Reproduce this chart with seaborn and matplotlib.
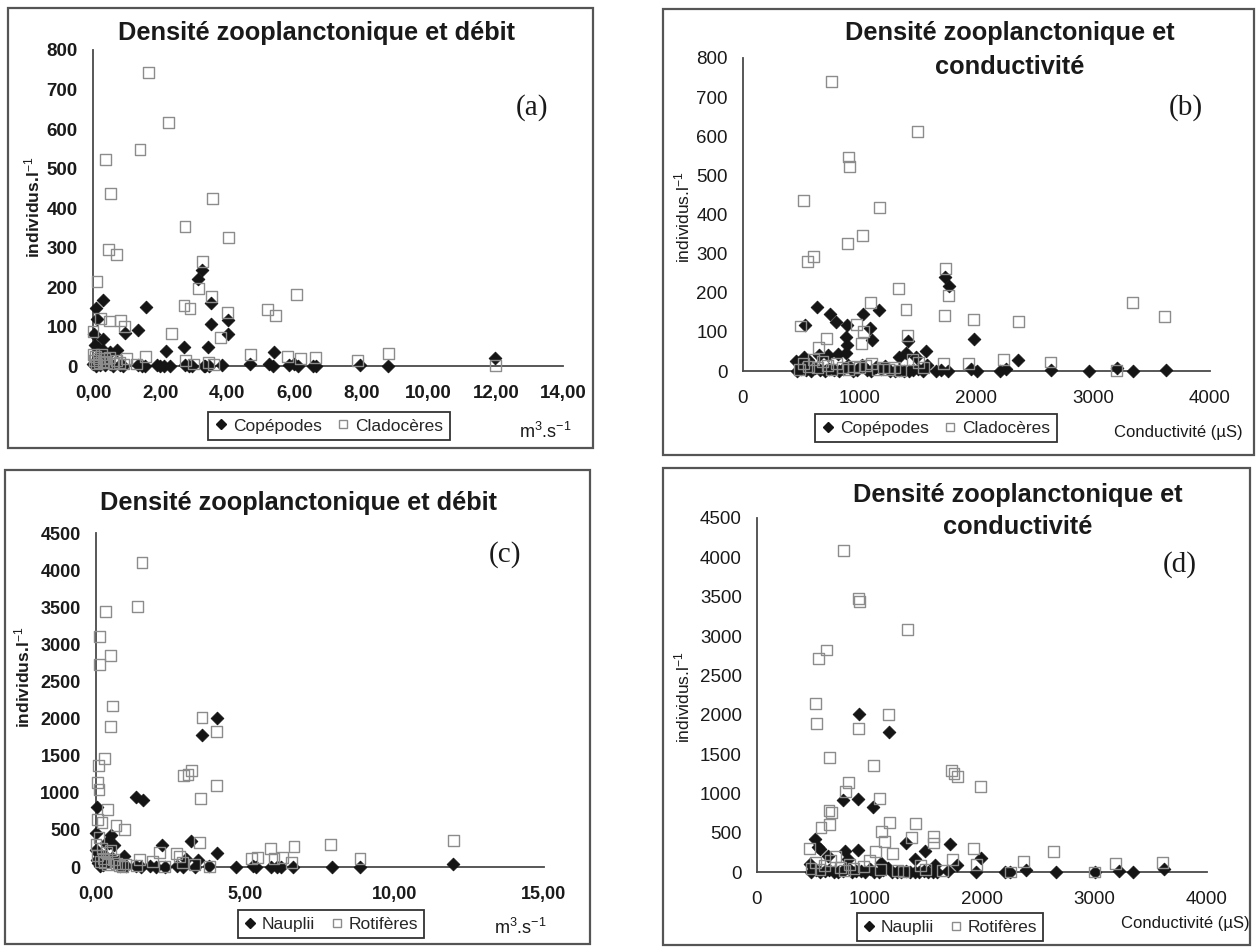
import matplotlib
matplotlib.use("Agg")
import matplotlib.pyplot as plt
import seaborn as sns
from matplotlib.lines import Line2D
from matplotlib.patches import Rectangle

# ---------------- data ----------------
# Panel (a): density vs discharge (m3/s)
cla_deb_x = [1.64, 2.24, 1.40, 0.36, 0.51, 3.55, 2.74, 4.05, 0.45, 0.69, 3.25, 0.12, 3.13, 6.05,
             3.52, 2.71, 2.89, 5.19, 5.43, 4.02, 0.21, 0.48, 0.81, 0.93, 2.33, 3.81, 4.68, 8.81,
             5.79, 6.19, 6.62, 7.89, 1.55, 1.00, 2.75, 3.45, 11.98, 1.30, 3.00, 3.60, 0.00,
             0.02, 0.05, 0.08, 0.10, 0.15, 0.20, 0.25, 0.30, 0.35, 0.40, 0.50, 0.60, 0.70, 0.80, 0.90]
cla_deb_y = [742, 616, 548, 523, 437, 424, 352, 325, 295, 283, 265, 213, 196, 181,
             177, 154, 145, 143, 128, 135, 120, 114, 116, 99, 82, 73, 30, 31,
             23, 20, 22, 14, 24, 20, 15, 10, 2, 5, 5, 3, 88,
             30, 15, 25, 5, 20, 10, 28, 12, 18, 8, 22, 6, 15, 10, 5]
cop_deb_x = [3.25, 3.13, 0.29, 1.57, 0.10, 3.52, 0.13, 4.02, 3.51, 1.35, 0.96, 4.02, 0.02, 0.31,
             2.71, 3.43, 2.18, 5.40, 0.05, 0.15, 0.30, 0.50, 0.70, 11.96,
             0.00, 0.05, 0.10, 0.15, 0.20, 0.25, 0.35, 0.40, 0.50, 0.60, 0.80, 0.90, 1.35, 1.45,
             1.55, 1.90, 2.00, 2.10, 2.30, 2.75, 2.85, 2.95, 3.30, 3.35, 3.45, 3.85, 4.68, 5.25,
             5.35, 5.85, 6.00, 6.10, 6.55, 6.65, 7.95, 8.80]
cop_deb_y = [244, 219, 166, 150, 148, 160, 120, 116, 107, 90, 84, 82, 80, 69,
             48, 48, 38, 35, 52, 45, 40, 35, 40, 19,
             5, 10, 0, 20, 3, 30, 2, 8, 5, 0, 2, 1, 2, 1,
             0, 2, 0, 0, 1, 2, 0, 0, 1, 0, 0, 2, 5, 5,
             1, 3, 4, 1, 0, 1, 2, 0]

# Panel (b): density vs conductivity (uS)
cla_cond_x = [759, 1498, 902, 909, 517, 1168, 1021, 895, 606, 551, 1334, 1736, 1760, 1093, 1396,
              3336, 1729, 1974, 2359, 3609, 494, 970, 1031, 1413, 715, 647, 1011, 2230, 2632,
              1934, 1720, 3200,
              480, 520, 560, 600, 640, 680, 720, 760, 800, 850, 900, 950, 1000, 1050, 1100,
              1150, 1200, 1250, 1300, 1350, 1450, 1500, 1550]
cla_cond_y = [740, 612, 547, 522, 435, 419, 346, 327, 293, 281, 211, 261, 192, 175, 158,
              175, 141, 131, 126, 139, 115, 118, 100, 90, 84, 60, 70, 30, 23,
              18, 18, 2,
              5, 20, 12, 30, 8, 25, 15, 5, 20, 10, 3, 12, 8, 15, 20,
              5, 10, 3, 8, 2, 30, 22, 10]
cop_cond_x = [1729, 1763, 637, 749, 1028, 1164, 793, 892, 528, 1086, 882, 1106, 1413, 1978, 892,
              1569, 882, 1399, 814, 732, 647, 1334, 1481, 2359, 521, 453, 560,
              460, 500, 540, 580, 620, 660, 700, 740, 780, 820, 860, 900, 940, 980, 1020, 1060,
              1100, 1140, 1180, 1220, 1260, 1300, 1340, 1380, 1420, 1460, 1500, 1540, 1580, 1650,
              1700, 1760, 1950, 2000, 2200, 2250, 2640, 2960, 3200, 3340, 3620]
cop_cond_y = [241, 216, 164, 146, 146, 156, 124, 118, 118, 109, 87, 80, 77, 82, 67,
              51, 47, 47, 43, 40, 40, 36, 36, 28, 36, 26, 28,
              0, 5, 2, 0, 8, 3, 0, 5, 2, 0, 4, 15, 0, 3, 15, 2,
              0, 10, 5, 12, 0, 0, 2, 0, 0, 3, 5, 0, 15, 0,
              2, 0, 5, 0, 0, 5, 2, 0, 8, 0, 3]

# Panel (c): density vs discharge (m3/s)
rot_deb_x = [1.54, 1.38, 0.33, 0.13, 0.50, 0.11, 0.54, 0.50, 3.55, 4.04, 0.27, 0.08, 3.21, 3.08,
             2.92, 0.05, 4.04, 0.10, 3.51, 0.375, 0.05, 0.20, 0.67, 0.94, 3.48, 11.96, 7.85,
             6.63, 5.83, 8.84, 5.42, 5.22, 5.96, 6.23, 2.14, 2.68, 2.79, 1.47, 1.90, 6.55, 0.47,
             0.00, 0.05, 0.10, 0.15, 0.20, 0.25, 0.30, 0.35, 0.40, 0.60, 0.70, 0.80, 0.90, 1.00,
             1.35, 2.30, 2.90, 3.30, 3.80]
rot_deb_y = [4097, 3514, 3447, 3102, 2855, 2730, 2169, 1891, 2012, 1824, 1466, 1363, 1296, 1250,
             1228, 1143, 1094, 1040, 928, 780, 636, 600, 556, 502, 336, 358, 300,
             278, 255, 116, 134, 120, 120, 130, 197, 179, 140, 100, 80, 60, 219,
             300, 150, 400, 80, 250, 120, 60, 200, 30, 100, 50, 20, 10, 40,
             20, 10, 60, 30, 10]
nau_deb_x = [4.06, 3.55, 1.34, 1.57, 0.05, 0.51, 0.35, 0.45, 0.60, 3.19, 2.21, 4.04, 0.94, 3.01,
             3.40, 0.00, 0.00, 11.96,
             0.02, 0.08, 0.10, 0.15, 0.20, 0.25, 0.30, 0.40, 0.55, 0.70, 0.80, 1.00, 1.35, 1.50,
             1.80, 2.00, 2.30, 2.70, 2.90, 3.30, 3.80, 4.68, 5.25, 5.35, 5.85, 6.05, 6.20, 6.60,
             7.90, 8.85]
nau_deb_y = [2003, 1779, 941, 905, 815, 435, 323, 320, 300, 354, 300, 188, 152, 110,
             100, 457, 230, 40,
             100, 50, 180, 20, 60, 30, 150, 80, 120, 40, 20, 10, 15, 5,
             10, 5, 0, 20, 5, 0, 10, 0, 10, 5, 0, 5, 0, 0,
             0, 5]

# Panel (d): density vs conductivity (uS)
rot_cond_x = [772, 900, 907, 1341, 548, 619, 523, 530, 1171, 904, 641, 1039, 1726, 1751, 1779,
              1989, 811, 790, 1085, 640, 665, 648, 569, 1181, 1413, 1110, 1135, 1377, 1573, 1570,
              1922, 463, 2633, 1203, 1050, 2367, 3185, 3601, 1950, 1740, 2250, 3000,
              480, 520, 560, 600, 650, 700, 740, 780, 820, 860, 950, 1000, 1100, 1250, 1300,
              1450, 1500, 1650]
rot_cond_y = [4083, 3481, 3438, 3086, 2716, 2822, 2143, 1889, 2003, 1825, 1456, 1358, 1295, 1252,
              1218, 1082, 1138, 1027, 934, 785, 760, 603, 560, 624, 615, 509, 390, 433, 454, 369,
              297, 297, 255, 233, 255, 136, 106, 115, 100, 160, 0, 0,
              50, 120, 30, 80, 150, 200, 60, 20, 100, 40, 70, 150, 30, 20, 10,
              80, 30, 20]
nau_cond_x = [904, 1171, 762, 897, 1032, 512, 540, 560, 1324, 1715, 780, 900, 1495, 1989, 630,
              808, 1406, 1103, 1780, 1580, 470, 2390, 3220, 3620, 2660, 3000, 3340, 1950, 2200,
              2250,
              480, 520, 560, 600, 640, 680, 720, 760, 800, 840, 880, 920, 960, 1000, 1040, 1080,
              1120, 1160, 1200, 1240, 1280, 1320, 1360, 1400, 1440, 1480, 1520, 1560, 1600, 1700]
nau_cond_y = [2003, 1783, 913, 934, 828, 424, 320, 290, 369, 352, 270, 285, 270, 182, 200,
              170, 170, 120, 90, 90, 100, 20, 10, 40, 0, 0, 0, 0, 0,
              0,
              5, 20, 0, 10, 30, 5, 0, 15, 60, 0, 8, 10, 0, 40, 5, 0,
              20, 50, 0, 3, 0, 8, 0, 2, 0, 10, 0, 5, 0, 15]

# ticks and texts
deb_ticks_a = [0, 2, 4, 6, 8, 10, 12, 14]
deb_labels_a = ["0,00", "2,00", "4,00", "6,00", "8,00", "10,00", "12,00", "14,00"]
deb_ticks_c = [0, 5, 10, 15]
deb_labels_c = ["0,00", "5,00", "10,00", "15,00"]
cond_ticks = [0, 1000, 2000, 3000, 4000]
cond_labels = ["0", "1000", "2000", "3000", "4000"]
y_ticks_small = [0, 100, 200, 300, 400, 500, 600, 700, 800]
y_ticks_large = [0, 500, 1000, 1500, 2000, 2500, 3000, 3500, 4000, 4500]

title_debit = ["Densité zooplanctonique et débit"]
title_cond = ["Densité zooplanctonique et", "conductivité"]
legend_top = ["Copépodes", "Cladocères"]
legend_bottom = ["Nauplii", "Rotifères"]
unit_debit = r"m$^{3}$.s$^{-1}$"
unit_cond = "Conductivité (µS)"
y_label = r"individus.l$^{-1}$"

# ---------------- styling ----------------
sns.set_theme(style="white")
plt.rcParams['font.family'] = ['Liberation Sans', 'DejaVu Sans']
plt.rcParams['mathtext.fontset'] = 'custom'
plt.rcParams['mathtext.rm'] = 'Liberation Sans'
plt.rcParams['mathtext.it'] = 'Liberation Sans:italic'
plt.rcParams['mathtext.bf'] = 'Liberation Sans:bold'

W, H = 1257, 947
fig = plt.figure(figsize=(W / 100, H / 100), dpi=100)
fig.patch.set_facecolor("white")

AX_COL = "#4a4a4a"
DIA_COL = "#151515"
SQ_COL = "#8c8c8c"


def fx(px):
    return px / W


def fy(py):
    return 1 - py / H


def panel(ax_box, frame_box, xticks, xlabels, xlim, yticks, ylim,
          sq_x, sq_y, di_x, di_y, leg_labels, titles, title_x, title_ys,
          tag, tag_xy, unit, unit_xy, unit_size, ylab_xy, leg_xy, bold_ticks, tick_size):
    # outer frame
    fl, ft, fr, fb = frame_box
    fig.patches.append(Rectangle((fx(fl), fy(fb)), (fr - fl) / W, (fb - ft) / H,
                                 transform=fig.transFigure, fill=False,
                                 edgecolor="#555555", linewidth=1.6, zorder=0))
    l, t, r, b = ax_box
    ax = fig.add_axes([fx(l), fy(b), (r - l) / W, (b - t) / H])
    ax.set_facecolor("none")
    sns.scatterplot(x=di_x, y=di_y, marker="D", s=42, color=DIA_COL, edgecolor=DIA_COL,
                    linewidth=0.6, ax=ax, legend=False, clip_on=False, zorder=3)
    sns.scatterplot(x=sq_x, y=sq_y, marker="s", s=62, color="none", edgecolor=SQ_COL,
                    linewidth=1.0, ax=ax, legend=False, clip_on=False, zorder=4)
    ax.set_xlim(*xlim)
    ax.set_ylim(*ylim)
    ax.set_xticks(xticks)
    ax.set_xticklabels(xlabels)
    ax.set_yticks(yticks)
    ax.set_yticklabels([str(v) for v in yticks])
    for s in ["top", "right"]:
        ax.spines[s].set_visible(False)
    for s in ["left", "bottom"]:
        ax.spines[s].set_color(AX_COL)
        ax.spines[s].set_linewidth(1.3)
    ax.tick_params(axis="both", direction="out", length=5, width=1.1, color=AX_COL,
                   labelsize=tick_size, labelcolor="#1a1a1a")
    ax.tick_params(axis="x", pad=9)
    ax.tick_params(axis="y", pad=6)
    ax.set_xlabel("")
    ax.set_ylabel("")
    if bold_ticks:
        for lab in ax.get_xticklabels() + ax.get_yticklabels():
            lab.set_fontweight("bold")
    # titles
    for line, ty in zip(titles, title_ys):
        fig.text(fx(title_x), fy(ty), line, ha="center", va="center",
                 fontsize=18.3, fontweight="bold", color="#1a1a1a")
    fig.text(fx(tag_xy[0]), fy(tag_xy[1]), tag, ha="center", va="center",
             fontsize=21, family="Liberation Serif", color="#1a1a1a")
    fig.text(fx(unit_xy[0]), fy(unit_xy[1]), unit, ha="center", va="center",
             fontsize=unit_size, color="#1a1a1a")
    fig.text(fx(ylab_xy[0]), fy(ylab_xy[1]), y_label, ha="center", va="center",
             rotation=90, fontsize=12.5, fontweight="bold" if bold_ticks else "normal",
             color="#1a1a1a")
    handles = [Line2D([], [], marker="D", ls="", color=DIA_COL, markersize=5),
               Line2D([], [], marker="s", ls="", markerfacecolor="none",
                      markeredgecolor=SQ_COL, markersize=6, markeredgewidth=1.0)]
    leg = ax.legend(handles, leg_labels, ncol=2, loc="center",
                    bbox_to_anchor=(fx(leg_xy[0]), fy(leg_xy[1])),
                    bbox_transform=fig.transFigure, frameon=True, fancybox=False,
                    edgecolor="#333333", framealpha=1, fontsize=12.5,
                    handlelength=0.7, handletextpad=0.35, columnspacing=0.9,
                    borderpad=0.35, borderaxespad=0)
    leg.get_frame().set_linewidth(1.3)
    return ax


# (a)
panel((93, 50, 563, 366), (8, 8, 593, 448), deb_ticks_a, deb_labels_a, (0, 14),
      y_ticks_small, (0, 800), cla_deb_x, cla_deb_y, cop_deb_x, cop_deb_y, legend_top,
      title_debit, 316, [33], "(a)", (532, 108), unit_debit, (545, 432), 13,
      (32, 207), (329, 426), True, 13.5)
# (b)
panel((743, 58, 1210, 371), (663, 9, 1254, 455), cond_ticks, cond_labels, (0, 4000),
      y_ticks_small, (0, 800), cla_cond_x, cla_cond_y, cop_cond_x, cop_cond_y, legend_top,
      title_cond, 1010, [33, 67], "(b)", (1186, 108), unit_cond, (1178, 433), 12,
      (682, 217), (936, 428), False, 13.5)
# (c)
panel((96, 533, 544, 867), (5, 470, 590, 944), deb_ticks_c, deb_labels_c, (0, 15),
      y_ticks_large, (0, 4500), rot_deb_x, rot_deb_y, nau_deb_x, nau_deb_y, legend_bottom,
      title_debit, 298, [503], "(c)", (505, 555), unit_debit, (520, 928), 13,
      (22, 677), (331, 924), True, 13)
# (d)
panel((757, 518, 1207, 872), (663, 468, 1250, 945), cond_ticks, cond_labels, (0, 4000),
      y_ticks_large, (0, 4500), rot_cond_x, rot_cond_y, nau_cond_x, nau_cond_y, legend_bottom,
      title_cond, 1018, [495, 527], "(d)", (1180, 565), unit_cond, (1185, 923), 12,
      (682, 697), (950, 927), False, 13.5)

fig.savefig("out.png", dpi=100, facecolor="white")
